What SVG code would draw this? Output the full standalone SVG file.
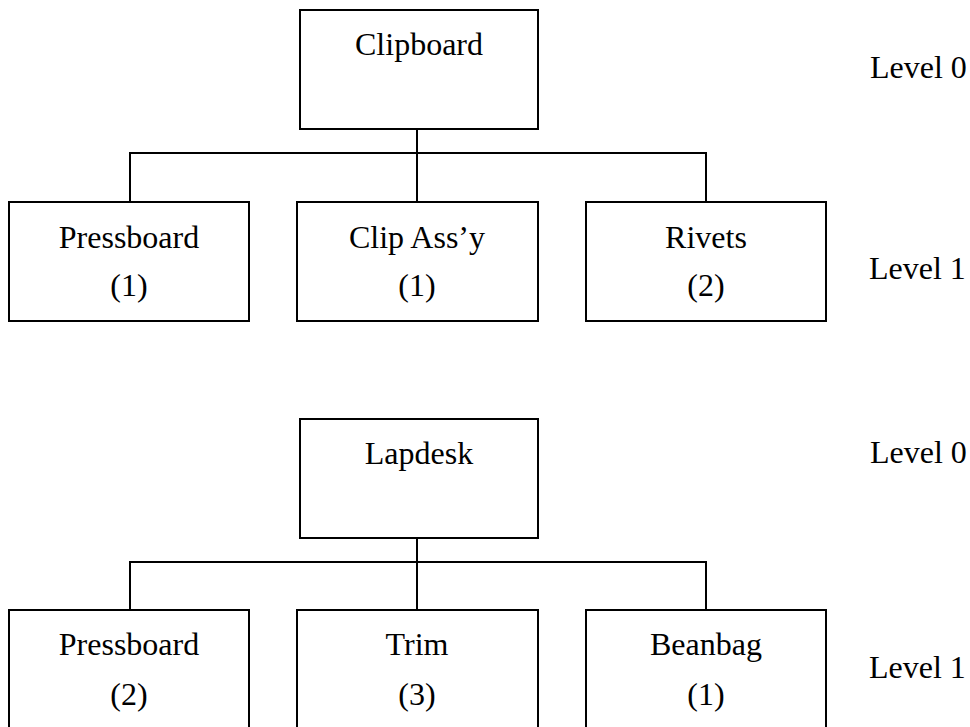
<svg xmlns="http://www.w3.org/2000/svg" width="970" height="727" viewBox="0 0 970 727">
<style>
rect.box{fill:#fff;stroke:#000;stroke-width:2}
.conn line{stroke:#000;stroke-width:2}
text{font-family:"Liberation Serif","Times New Roman",serif;font-size:32px;fill:#000}
text.c{text-anchor:middle}
</style>
<rect width="970" height="727" fill="#fff"/>
<g class="conn" id="connectors">
<line x1="417" y1="129" x2="417" y2="202"/>
<line x1="129" y1="153" x2="706" y2="153"/>
<line x1="130" y1="152" x2="130" y2="202"/>
<line x1="706" y1="152" x2="706" y2="202"/>
<line x1="417" y1="538" x2="417" y2="610"/>
<line x1="129" y1="562" x2="706" y2="562"/>
<line x1="130" y1="561" x2="130" y2="610"/>
<line x1="706" y1="561" x2="706" y2="610"/>
</g>
<g id="clipboard"><rect class="box" x="300" y="10" width="238" height="119"/><text class="c" x="419" y="55">Clipboard</text></g>
<g id="pressboard1"><rect class="box" x="9" y="202" width="240" height="119"/><text class="c" x="129" y="248">Pressboard</text><text class="c" x="129" y="296">(1)</text></g>
<g id="clipassy"><rect class="box" x="297" y="202" width="241" height="119"/><text class="c" x="417" y="248">Clip Ass’y</text><text class="c" x="417" y="296">(1)</text></g>
<g id="rivets"><rect class="box" x="586" y="202" width="240" height="119"/><text class="c" x="706" y="248">Rivets</text><text class="c" x="706" y="296">(2)</text></g>
<g id="lapdesk"><rect class="box" x="300" y="419" width="238" height="119"/><text class="c" x="419" y="464">Lapdesk</text></g>
<g id="pressboard2"><rect class="box" x="9" y="610" width="240" height="130"/><text class="c" x="129" y="655">Pressboard</text><text class="c" x="129" y="705">(2)</text></g>
<g id="trim"><rect class="box" x="297" y="610" width="241" height="130"/><text class="c" x="417" y="655">Trim</text><text class="c" x="417" y="705">(3)</text></g>
<g id="beanbag"><rect class="box" x="586" y="610" width="240" height="130"/><text class="c" x="706" y="655">Beanbag</text><text class="c" x="706" y="705">(1)</text></g>
<g id="levels">
<text x="870" y="78" font-size="31">Level 0</text>
<text x="869" y="279" font-size="31">Level 1</text>
<text x="870" y="463" font-size="31">Level 0</text>
<text x="869" y="678" font-size="31">Level 1</text>
</g>
</svg>
